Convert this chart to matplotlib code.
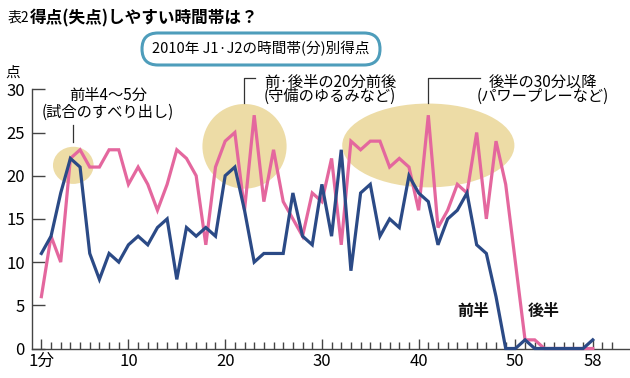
import matplotlib
matplotlib.use("Agg")
import matplotlib.pyplot as plt
from matplotlib.patches import Ellipse, FancyBboxPatch
from matplotlib.lines import Line2D

plt.rcParams['font.family'] = ['Noto Sans CJK JP', 'DejaVu Sans']

# data (goals per minute, J1+J2 2010)
minutes = list(range(1, 59))
first_half = [11, 13, 18, 22, 21, 11, 8, 11, 10, 12,
              13, 12, 14, 15, 8, 14, 13, 14, 13, 20,
              21, 16, 10, 11, 11, 11, 18, 13, 12, 19,
              13, 23, 9, 18, 19, 13, 15, 14, 20, 18,
              17, 12, 15, 16, 18, 12, 11, 6, 0, 0,
              1, 0, 0, 0, 0, 0, 0, 1]
second_half = [6, 13, 10, 22, 23, 21, 21, 23, 23, 19,
               21, 19, 16, 19, 23, 22, 20, 12, 21, 24,
               25, 16, 27, 17, 23, 17, 15, 13, 18, 17,
               22, 12, 24, 23, 24, 24, 21, 22, 21, 16,
               27, 14, 16, 19, 18, 25, 15, 24, 19, 10,
               1, 1, 0, 0, 0, 0, 0, 0]
xtick_pos = [1, 10, 20, 30, 40, 50, 58]
xtick_labels = ["1分", "10", "20", "30", "40", "50", "58"]
yticks = [0, 5, 10, 15, 20, 25, 30]

PINK = "#E4679E"
BLUE = "#2B4A86"
TAN = "#EDDCA6"
GRAY = "#444444"

W, H = 630, 378
fig = plt.figure(figsize=(W / 100, H / 100), dpi=100)

def fx(x):
    return x / W

def fy(y):
    return 1 - y / H

ax = fig.add_axes([fx(31.7), fy(348.5), fx(630) - fx(31.7), fy(89.3) - fy(348.5)])
ax.set_xlim(0, 61.85)
ax.set_ylim(0, 30)

#Part A: highlight ellipses
for (cx, cy, w, h) in [(4.3, 21.2, 4.2, 4.3), (22.0, 23.4, 8.7, 9.8), (41.0, 23.5, 17.8, 9.7)]:
    ax.add_patch(Ellipse((cx, cy), w, h, color=TAN, lw=0, zorder=1))

#Part B: the two lines
ax.plot(minutes, second_half, color=PINK, lw=2.3, zorder=3, clip_on=False, solid_joinstyle='miter')
ax.plot(minutes, first_half, color=BLUE, lw=2.3, zorder=4, clip_on=False, solid_joinstyle='miter')

ax.text(45.6, 4.3, "前半", fontsize=11.5, fontweight='bold', ha='center', va='center', color='#111111')
ax.text(52.9, 4.3, "後半", fontsize=11.5, fontweight='bold', ha='center', va='center', color='#111111')

#Part C: axes styling
for s in ['top', 'right']:
    ax.spines[s].set_visible(False)
for s in ['left', 'bottom']:
    ax.spines[s].set_color(GRAY)
    ax.spines[s].set_linewidth(1.0)

ax.set_yticks(yticks)
ax.set_xticks(xtick_pos)
ax.set_xticklabels(xtick_labels)
ax.set_xticks([m for m in range(2, 61) if m not in xtick_pos], minor=True)
ax.tick_params(axis='y', direction='in', length=9.5, width=1, color=GRAY, pad=5, labelsize=12)
ax.tick_params(axis='x', which='major', direction='in', length=7.5, width=1, color=GRAY, pad=3, labelsize=12)
ax.tick_params(axis='x', which='minor', direction='in', length=5, width=1, color=GRAY)

fig.text(fx(13), fy(73), "点", fontsize=10.5, ha='center', va='center')

#Part D: titles
fig.text(fx(8), fy(18), "表2", fontsize=10, ha='left', va='center')
fig.text(fx(30), fy(18), "得点(失点)しやすい時間帯は？", fontsize=12, fontweight='bold', ha='left', va='center')

box = FancyBboxPatch((142 / 100, (H - 65) / 100), 238 / 100, 32 / 100,
                     boxstyle="round,pad=0,rounding_size=0.16",
                     transform=fig.dpi_scale_trans, fc='white', ec='#4E9DBB', lw=2.2)
fig.add_artist(box)
fig.text(fx(261), fy(49), "2010年 J1·J2の時間帯(分)別得点", fontsize=10.5, ha='center', va='center')

#Part E: callouts (two lines each, one text object)
notes = [
    (108, 104, "前半4〜5分\n(試合のすべり出し)", 1.0),
    (330, 89.5, "前·後半の20分前後\n(守備のゆるみなど)", 0.8),
    (543, 89.5, "後半の30分以降\n(パワープレーなど)", 0.8),
]
for (cx, cy, txt, ls) in notes:
    fig.text(fx(cx), fy(cy), txt, fontsize=11, ha='center', va='center',
             multialignment='center', linespacing=ls)

leader_lines = [
    ([72.7, 72.7], [125, 142]),
    ([255, 244, 244], [78, 78, 103]),
    ([480, 428, 428], [78, 78, 103]),
]
for xs, ys in leader_lines:
    fig.add_artist(Line2D([fx(v) for v in xs], [fy(v) for v in ys], color='#333333', lw=0.9,
                          transform=fig.transFigure))

fig.savefig("out.png", dpi=100)
